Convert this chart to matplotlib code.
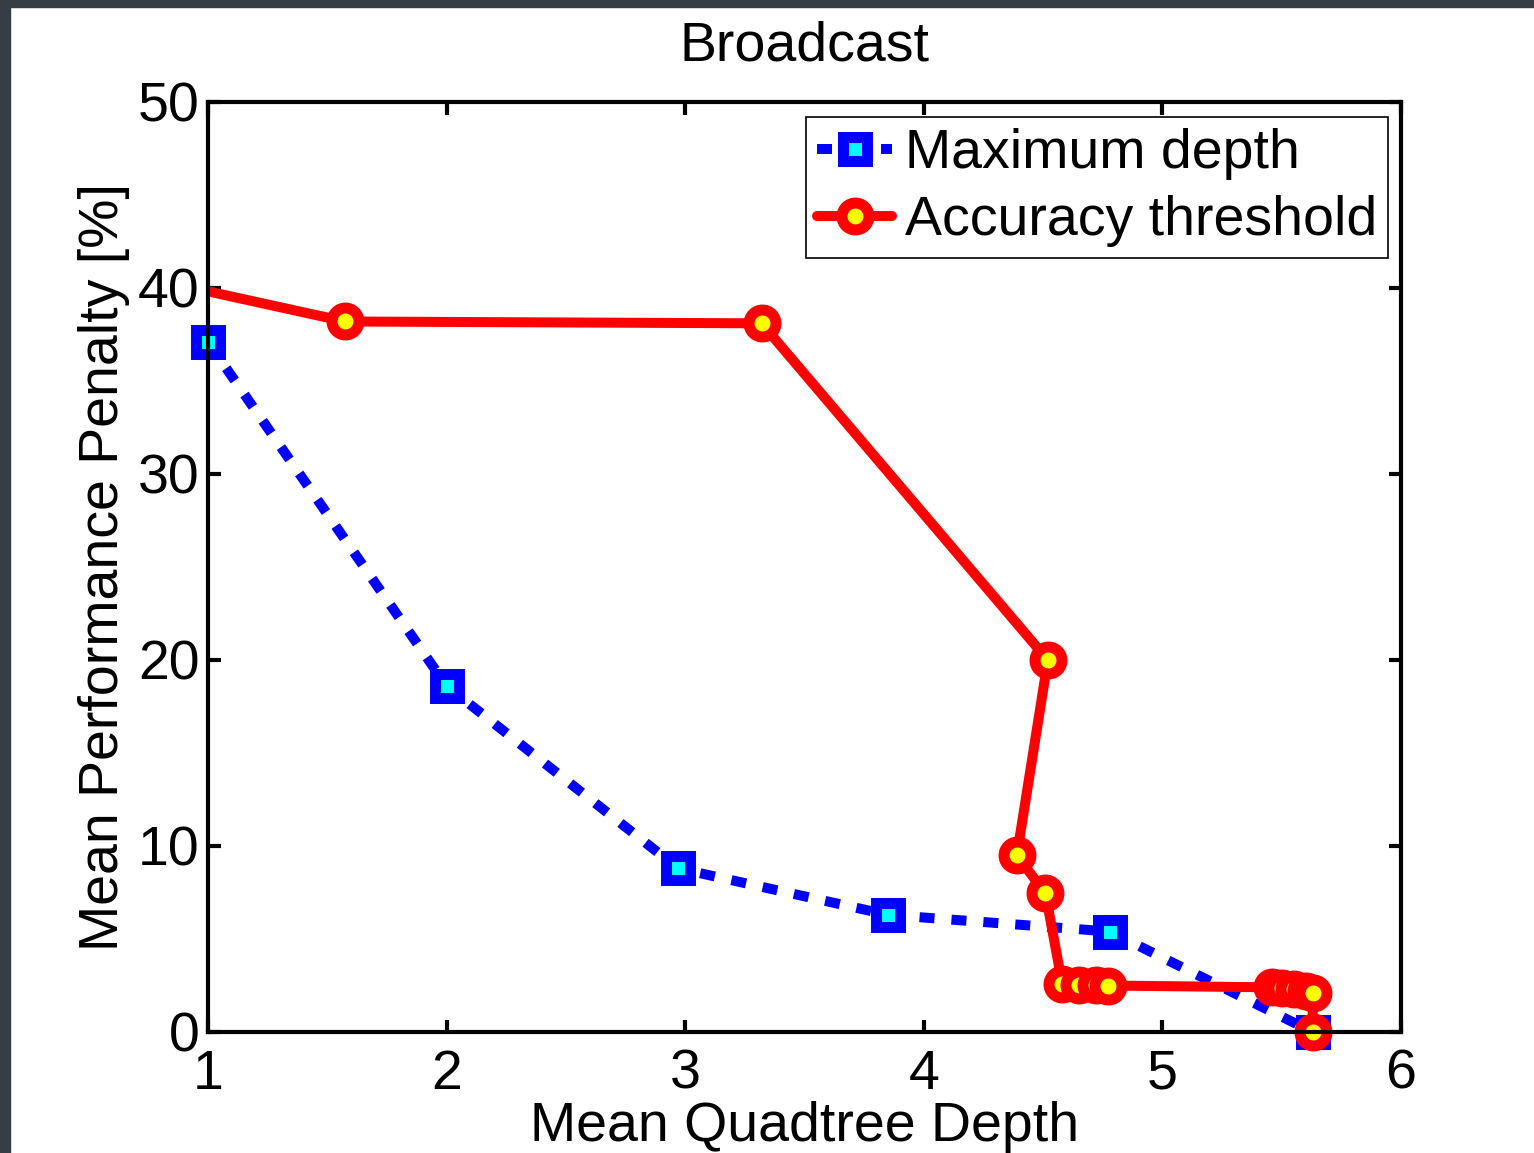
import matplotlib
matplotlib.use("Agg")
import matplotlib.pyplot as plt
from matplotlib.lines import Line2D
from matplotlib.patches import Rectangle

plt.rcParams['font.family'] = ['Liberation Sans', 'DejaVu Sans']

# Maximum depth series
max_depth_x = [1.00, 2.00, 2.97, 3.85, 4.78, 5.63]
max_depth_y = [37.1, 18.6, 8.8, 6.3, 5.4, 0.0]

# Accuracy threshold series (first point lies just left of the axis)
acc_x = [0.90, 1.575, 3.32, 4.52, 4.39, 4.51, 4.58, 4.65, 4.72, 4.77,
         5.46, 5.50, 5.55, 5.60, 5.63, 5.63]
acc_y = [40.1, 38.2, 38.1, 20.0, 9.5, 7.45, 2.6, 2.55, 2.55, 2.5,
         2.4, 2.35, 2.3, 2.2, 2.1, 0.0]

x_ticks = [1, 2, 3, 4, 5, 6]
y_ticks = [0, 10, 20, 30, 40, 50]
x_range = (1, 6)
y_range = (0, 50)

W, H = 1534, 1153
fig = plt.figure(figsize=(W / 100, H / 100), dpi=100)
fig.patch.set_facecolor('white')

# dark frame strips along top and left edges
border = '#363d44'
fig.patches.append(Rectangle((0, 1 - 7 / H), 1, 7 / H, transform=fig.transFigure,
                             color=border, zorder=0))
fig.patches.append(Rectangle((0, 0), 10 / W, 1, transform=fig.transFigure,
                             color=border, zorder=0))

ax = fig.add_axes([208 / W, (H - 1032) / H, (1401 - 208) / W, (1032 - 102) / H])

blue_line = dict(color='#0000ff', linewidth=7.2, linestyle=(0, (1.5, 1.7)),
                 dash_capstyle='butt')
blue_mark = dict(marker='s', markersize=16.6, markeredgewidth=7.9,
                 markerfacecolor='#00ffff', markeredgecolor='#0000ff')
red_line = dict(color='#ff0000', linewidth=7.2, solid_joinstyle='round',
                solid_capstyle='round')
red_mark = dict(marker='o', markersize=19.4, markeredgewidth=7.9,
                markerfacecolor='#ffff00', markeredgecolor='#ff0000')

ax.plot(max_depth_x, max_depth_y, **blue_line, **blue_mark, zorder=2,
        clip_on=False)

# red curve: line clipped to the axes, markers only for points inside the range
ax.plot(acc_x, acc_y, **red_line, zorder=3)
inside = [i for i, x in enumerate(acc_x) if x_range[0] <= x <= x_range[1]]
ax.plot([acc_x[i] for i in inside], [acc_y[i] for i in inside],
        linestyle='none', **red_mark, zorder=4, clip_on=False)

ax.set_xlim(*x_range)
ax.set_ylim(*y_range)
ax.set_xticks(x_ticks)
ax.set_yticks(y_ticks)

fs = 40
ax.tick_params(direction='in', length=9, width=3, top=True, right=True,
               labelsize=fs)
ax.tick_params(axis='y', pad=6)
ax.tick_params(axis='x', pad=12)
for s in ax.spines.values():
    s.set_linewidth(3)
    s.set_zorder(5)

ax.set_title('Broadcast', fontsize=fs, pad=30)
ax.set_xlabel('Mean Quadtree Depth', fontsize=fs, labelpad=0)
ax.set_ylabel('Mean Performance Penalty [%]', fontsize=fs, labelpad=6)

handles = [Line2D([], [], **blue_line, **blue_mark),
           Line2D([], [], **red_line, **red_mark)]
labels = ['Maximum depth', 'Accuracy threshold']
leg = ax.legend(handles, labels, loc='upper right',
                bbox_to_anchor=(1388 / W, (H - 117) / H),
                bbox_transform=fig.transFigure, borderaxespad=0,
                fontsize=fs, frameon=True, fancybox=False, framealpha=1,
                edgecolor='black', handlelength=1.35, handletextpad=0.22,
                borderpad=0.2, labelspacing=0.27)
leg.get_frame().set_linewidth(1.2)
leg.set_zorder(6)

fig.savefig('out.png', dpi=100, facecolor=fig.get_facecolor())
